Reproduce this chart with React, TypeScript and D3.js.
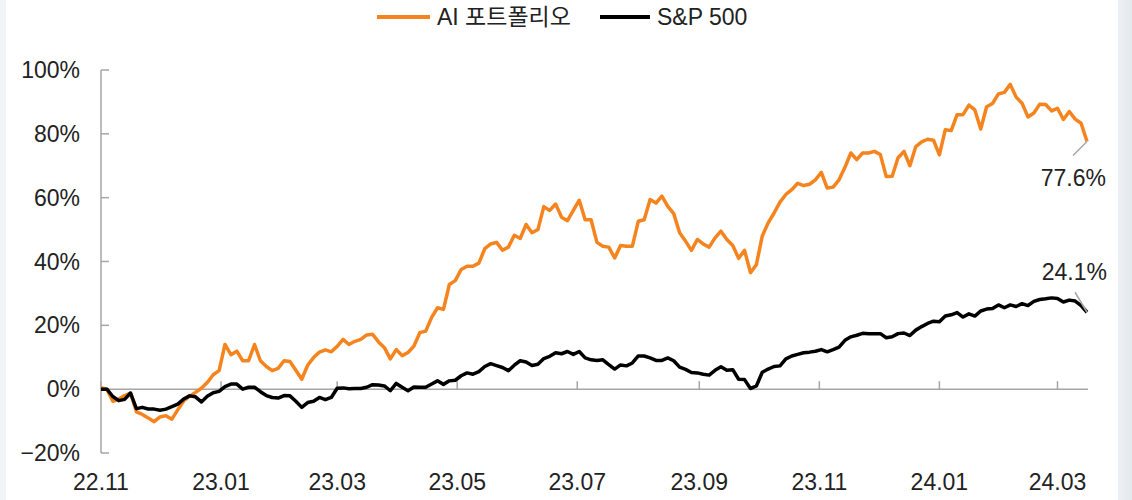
import React from "react";
import * as d3 from "d3";

// 누적 수익률(%) - 22.11.01부터 3일 간격으로 읽은 값
const aiValues = [
  0.5, 0, -3.8, -3.1, -2.0, -1.2, -7.1, -7.9, -9.0, -10.2,
  -8.7, -8.3, -9.4, -6.5, -3.7, -2.2, -1.0, 0.3, 2.1, 4.5,
  5.8, 14, 10.8, 11.9, 8.9, 8.9, 14, 8.9, 7.1, 5.8,
  6.5, 8.9, 8.7, 5.9, 3.1, 7.5, 9.9, 11.6, 12.3, 11.7,
  13.4, 15.6, 14, 15.0, 15.6, 17.0, 17.2, 14.8, 13, 9.5,
  12.4, 10.5, 11.5, 13.5, 17.7, 18.2, 22.5, 25.5, 25.0, 32.8,
  34.0, 37.5, 38.5, 38.5, 39.5, 44, 45.5, 46, 43.5, 44.5,
  48.2, 47.2, 51.6, 49, 50, 57.2, 56, 58, 53.9, 52.8,
  56, 59.2, 53.1, 53.1, 46, 44.8, 44.5, 41.1, 45, 44.8,
  44.8, 52.6, 53.1, 59.4, 58.3, 60.5, 57.3, 55, 49, 46.4,
  43.5, 46.9, 45.5, 44.5, 47.4, 49.5, 46.9, 45, 41, 43.5,
  36.5, 39, 48, 52.1, 55.2, 58.6, 61, 62.5, 64.5, 63.8,
  64.2, 65.6, 67.9, 63, 63.3, 65.6, 69.5, 74, 71.9, 74,
  74, 74.5, 73.5, 66.6, 66.7, 72.5, 74.5, 70, 76, 77.5,
  78.3, 78, 73.4, 81.3, 81, 86, 86, 89, 87.5, 81.5,
  88.5, 89.5, 92.5, 93, 95.5, 91.5, 89.6, 85.3, 86.5, 89.3,
  89.2, 87.2, 88, 84.5, 87, 84.6, 83.3, 77.6,
];

const spValues = [
  0, 0, -2.3, -3.6, -3.2, -1.2, -6.1, -5.7, -6.2, -6.25,
  -6.6, -6.25, -5.5, -4.7, -3.1, -2.1, -2.4, -4.0, -2.2, -1.1,
  -0.7, 0.8, 1.6, 1.6, 0, 0.6, 0.6, -0.8, -2.0, -2.6,
  -2.8, -2.0, -2.1, -3.8, -5.7, -4.2, -3.8, -2.6, -3.3, -2.6,
  0.3, 0.4, 0.1, 0.2, 0.2, 0.6, 1.4, 1.3, 1.0, -0.5,
  1.8, 0.6, -0.5, 0.7, 0.6, 0.6, 1.6, 2.6, 1.5, 2.6,
  2.8, 4.2, 5.1, 4.7, 5.5, 7.1, 8.0, 7.4, 6.8, 5.8,
  7.5, 8.9, 8.5, 7.4, 7.8, 9.6, 10.3, 11.4, 11.1, 11.8,
  10.9, 11.8, 9.8, 9.2, 9.0, 9.2, 7.7, 6.3, 7.6, 7.3,
  8.2, 10.4, 10.4, 9.8, 9.0, 9.0, 9.8, 8.9, 6.9, 6.2,
  5.2, 5.1, 4.7, 4.4, 5.9, 7.0, 5.9, 6.1, 3.1, 3.0,
  0.2, 1.0, 5.3, 6.3, 7.1, 7.3, 9.5, 10.4, 10.9, 11.4,
  11.6, 11.9, 12.4, 11.7, 12.4, 13.2, 15.3, 16.4, 16.9, 17.5,
  17.4, 17.4, 17.4, 16.1, 16.4, 17.4, 17.6, 16.8, 18.5, 19.6,
  20.6, 21.3, 21.1, 22.9, 23.3, 24, 22.6, 23.6, 22.9, 24.5,
  25.1, 25.3, 26.4, 25.5, 26.4, 25.9, 26.8, 26.2, 27.5, 28.1,
  28.3, 28.6, 28.4, 27.3, 27.9, 27.6, 26.2, 24.1,
];

const startDate = new Date(2022, 10, 1);
const dates = aiValues.map((_, i) => d3.timeDay.offset(startDate, i * 3));

const yTicks = [-20, 0, 20, 40, 60, 80, 100];
const seriesNames = ["AI 포트폴리오", "S&P 500"];
const seriesColors = ["#f5841f", "#000000"];

const W = 1132;
const H = 500;
const FONT = "'Liberation Sans', Arial, 'Noto Sans CJK KR', sans-serif";
const AXIS = "#a6a6a6";

export default function App() {
  const x = d3
    .scaleTime()
    .domain([startDate, dates[dates.length - 1]])
    .range([101, 1087]);
  const y = d3.scaleLinear().domain([-20, 100]).range([453, 70]);

  const line = d3
    .line<number>()
    .x((_, i) => x(dates[i]))
    .y((d) => y(d))
    .curve(d3.curveLinear);

  const xTicks = d3.timeMonth.range(startDate, dates[dates.length - 1], 2);
  const fmt = d3.timeFormat("%y.%m");

  const lastX = x(dates[dates.length - 1]);
  const aiLast = aiValues[aiValues.length - 1];
  const spLast = spValues[spValues.length - 1];

  return (
    <svg
      width={W}
      height={H}
      style={{ position: "absolute", left: 0, top: 0, background: "#fff" }}
      fontFamily={FONT}
    >
      <defs>
        <linearGradient id="edgeR" x1="0" x2="1" y1="0" y2="0">
          <stop offset="0" stopColor="#eef1f4" />
          <stop offset="1" stopColor="#e3e8ed" />
        </linearGradient>
      </defs>
      <rect x={1118} y={0} width={14} height={H} fill="url(#edgeR)" />
      <rect x={0} y={0} width={6} height={H} fill="#f1f3f6" />

      {/* 범례 */}
      <g>
        <line x1={377} x2={430} y1={17} y2={17} stroke={seriesColors[0]} strokeWidth={4} />
        <text x={437} y={25} fontSize={23} fill="#222">
          {seriesNames[0]}
        </text>
        <line x1={600} x2={650} y1={17} y2={17} stroke={seriesColors[1]} strokeWidth={4} />
        <text x={657} y={25} fontSize={23} fill="#222">
          {seriesNames[1]}
        </text>
      </g>

      {/* y축 */}
      <line x1={101} x2={101} y1={y(100)} y2={y(-20)} stroke={AXIS} strokeWidth={1.5} />
      {yTicks.map((t) => (
        <g key={t}>
          <line x1={101} x2={109} y1={y(t)} y2={y(t)} stroke={AXIS} strokeWidth={1.5} />
          <text x={80} y={y(t) + 8} textAnchor="end" fontSize={23} fill="#222">
            {(t < 0 ? "\u2212" + Math.abs(t) : t) + "%"}
          </text>
        </g>
      ))}

      {/* x축 (0% 선) */}
      <line x1={101} x2={1088} y1={y(0)} y2={y(0)} stroke={AXIS} strokeWidth={1.5} />
      {xTicks.map((t, i) => (
        <g key={i}>
          <line x1={x(t)} x2={x(t)} y1={y(0)} y2={y(0) - 8} stroke={AXIS} strokeWidth={1.5} />
          <text x={x(t)} y={490} textAnchor="middle" fontSize={23} fill="#222">
            {fmt(t)}
          </text>
        </g>
      ))}

      <path d={line(aiValues) || ""} fill="none" stroke={seriesColors[0]} strokeWidth={3.5} strokeLinejoin="round" />
      <path d={line(spValues) || ""} fill="none" stroke={seriesColors[1]} strokeWidth={3.5} strokeLinejoin="round" />

      {/* 마지막 값 표시 */}
      <line x1={lastX} y1={y(aiLast)} x2={lastX - 14} y2={y(aiLast) + 14} stroke="#a6a6a6" strokeWidth={1.5} />
      <text x={1106} y={186} textAnchor="end" fontSize={23} fill="#222">
        {aiLast.toFixed(1) + "%"}
      </text>
      <line x1={lastX} y1={y(spLast)} x2={lastX - 12} y2={y(spLast) - 20} stroke="#a6a6a6" strokeWidth={1.5} />
      <text x={1107} y={280} textAnchor="end" fontSize={23} fill="#222">
        {spLast.toFixed(1) + "%"}
      </text>
    </svg>
  );
}
